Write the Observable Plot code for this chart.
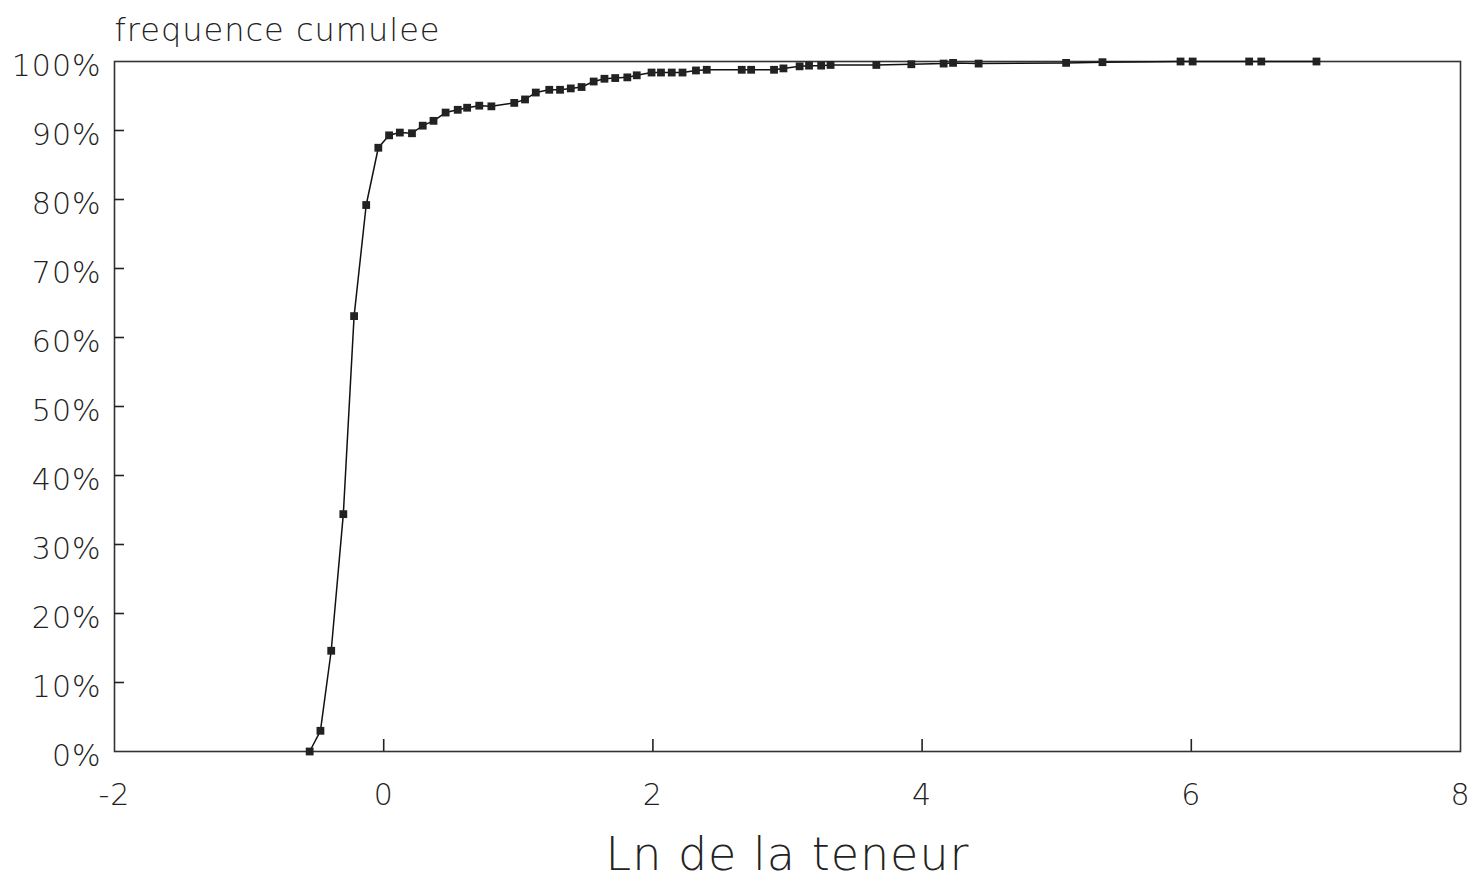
<!DOCTYPE html>
<html>
<head>
<meta charset="utf-8">
<script src="https://cdn.jsdelivr.net/npm/d3@7"></script>
<script src="https://cdn.jsdelivr.net/npm/@observablehq/plot@0.6"></script>
<style>
  html, body { margin: 0; padding: 0; background: #fff; }
  #chart svg { display: block; }
  #chart svg text { letter-spacing: 1px; }
</style>
</head>
<body>
<div id="chart"></div>
<script>
// Ln de la teneur (x) and cumulative frequency in % (y)
const lnTeneur = [
  -0.55, -0.47, -0.39, -0.30, -0.22, -0.13, -0.04, 0.04, 0.12, 0.21,
  0.29, 0.37, 0.46, 0.55, 0.62, 0.71, 0.80, 0.97, 1.05, 1.13,
  1.23, 1.31, 1.39, 1.47, 1.56, 1.64, 1.72, 1.81, 1.88, 1.99,
  2.06, 2.14, 2.22, 2.32, 2.40, 2.66, 2.73, 2.90, 2.97, 3.09,
  3.16, 3.25, 3.32, 3.66, 3.92, 4.16, 4.23, 4.42, 5.07, 5.34,
  5.92, 6.01, 6.43, 6.52, 6.93
];
const frequenceCumulee = [
  0.0, 3.0, 14.6, 34.4, 63.1, 79.2, 87.5, 89.3, 89.7, 89.6,
  90.7, 91.4, 92.6, 93.0, 93.3, 93.6, 93.5, 94.0, 94.5, 95.5,
  95.9, 95.9, 96.1, 96.3, 97.1, 97.5, 97.6, 97.7, 98.0, 98.4,
  98.4, 98.4, 98.4, 98.7, 98.8, 98.8, 98.8, 98.8, 99.0, 99.3,
  99.4, 99.4, 99.5, 99.5, 99.6, 99.7, 99.8, 99.7, 99.8, 99.9,
  100.0, 100.0, 100.0, 100.0, 100.0
];
const xTicks = [-2, 0, 2, 4, 6, 8];
const xInnerTicks = [0, 2, 4, 6];
const yTicks = [0, 10, 20, 30, 40, 50, 60, 70, 80, 90, 100];
const yInnerTicks = [10, 20, 30, 40, 50, 60, 70, 80, 90];
const yTitle = "frequence cumulee";
const xTitle = "Ln de la teneur";

const data = lnTeneur.map((x, i) => ({x, y: frequenceCumulee[i]}));
const font = "'DejaVu Sans', 'Noto Sans', sans-serif";

const W = 1478, H = 896, mL = 114, mR = 18, mT = 61, mB = 145;
const tickLen = 10;

const chart = Plot.plot({
  width: W,
  height: H,
  marginLeft: mL,
  marginRight: mR,
  marginTop: mT,
  marginBottom: mB,
  style: {fontFamily: font, fontWeight: 200, color: "#222", background: "#fff"},
  x: {domain: [-2, 8], label: null},
  y: {domain: [0, 100], label: null},
  marks: [
    Plot.frame({stroke: "#333", strokeWidth: 1.6}),
    Plot.tickY(yInnerTicks, {y: d => d, insetRight: W - mL - mR - tickLen, stroke: "#222", strokeWidth: 1.6}),
    Plot.axisY(yTicks, {anchor: "left", tickSize: 0, tickPadding: 13, tickFormat: d => d + "%",
      fontSize: 30, fontWeight: 200, dy: 5, label: null}),
    Plot.tickX(xInnerTicks, {x: d => d, insetTop: H - mT - mB - 12, stroke: "#222", strokeWidth: 1.6}),
    Plot.axisX(xTicks, {anchor: "bottom", tickSize: 0, tickPadding: 32, tickFormat: d => String(d),
      fontSize: 30, fontWeight: 200, label: null}),
    Plot.line(data, {x: "x", y: "y", stroke: "#111", strokeWidth: 1.5}),
    Plot.dot(data, {x: "x", y: "y", symbol: "square", r: 4.4, fill: "#222", stroke: "none"}),
    Plot.text([yTitle], {frameAnchor: "top-left", text: d => d, textAnchor: "start", dy: -43,
      fontSize: 32, fontWeight: 200, fill: "#222"}),
    Plot.text([xTitle], {frameAnchor: "bottom", text: d => d, dy: 118,
      fontSize: 46, fontWeight: 200, fill: "#222"})
  ]
});
document.getElementById("chart").appendChild(chart);
</script>
</body>
</html>
